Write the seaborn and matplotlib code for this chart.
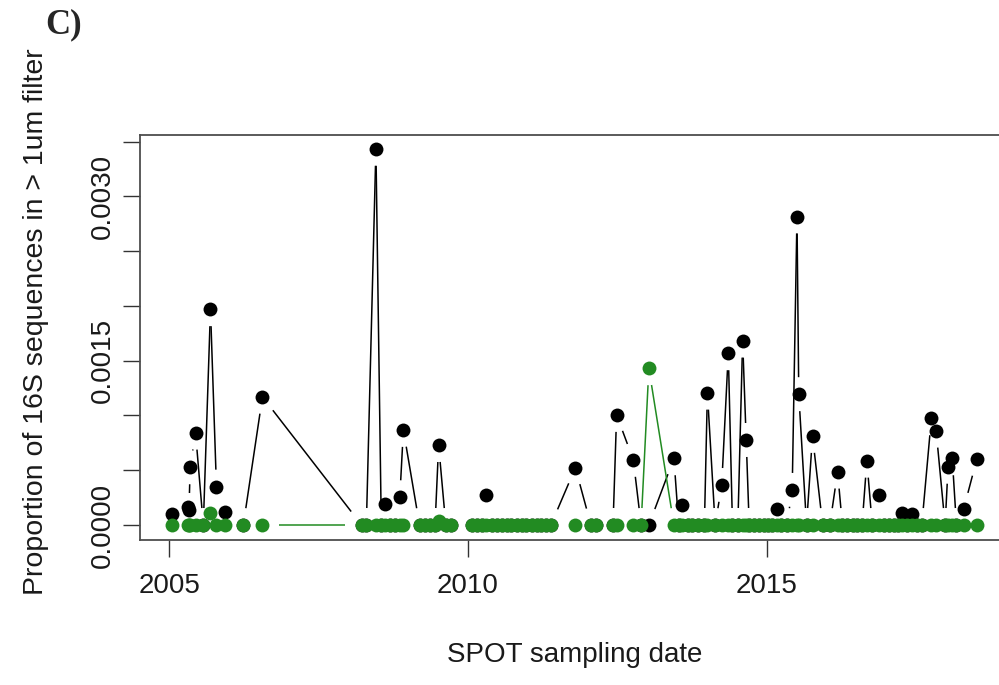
import numpy as np
import matplotlib
matplotlib.use("Agg")
import matplotlib.pyplot as plt
from matplotlib.collections import LineCollection
import seaborn as sns

# SPOT sampling dates (decimal years) and proportion of 16S reads in the > 1um fraction
dates = [
    2005.05, 2005.31, 2005.33, 2005.35, 2005.44, 2005.57, 2005.69, 2005.79, 2005.94,
    2006.24, 2006.56,
    2008.22, 2008.30, 2008.46, 2008.55, 2008.62, 2008.70, 2008.78, 2008.86, 2008.92,
    2009.19, 2009.28, 2009.36, 2009.45, 2009.51, 2009.63, 2009.72,
    2010.07, 2010.15, 2010.23, 2010.31, 2010.40, 2010.48, 2010.57, 2010.65, 2010.73,
    2010.82, 2010.90, 2010.98, 2011.07, 2011.15, 2011.23, 2011.31, 2011.39,
    2011.80, 2012.06, 2012.14, 2012.43, 2012.49, 2012.77, 2012.90, 2013.03,
    2013.45, 2013.53, 2013.59, 2013.68, 2013.76, 2013.85, 2013.96, 2014.01, 2014.14,
    2014.25, 2014.36, 2014.43, 2014.52, 2014.60, 2014.66, 2014.71, 2014.79, 2014.87,
    2014.95, 2015.03, 2015.10, 2015.17, 2015.25, 2015.34, 2015.43, 2015.51, 2015.54,
    2015.67, 2015.77, 2015.94, 2016.06, 2016.19, 2016.27, 2016.35, 2016.44, 2016.52,
    2016.60, 2016.68, 2016.77, 2016.89, 2016.97, 2017.05, 2017.13, 2017.20, 2017.27,
    2017.35, 2017.43, 2017.52, 2017.60, 2017.76, 2017.84, 2017.99, 2018.04, 2018.11,
    2018.18, 2018.30, 2018.52,
]

total_prop = [
    0.00010, 0.000164, 0.000137, 0.000527, 0.000843, 0.0, 0.00197, 0.00035, 0.000116,
    0.0, 0.00117,
    0.0, 0.0, 0.003434, 0.0, 0.000192, 0.0, 0.0, 0.000253, 0.000868,
    0.0, 0.0, 0.0, 0.0, 0.00073, 0.0, 0.0,
    0.0, 0.0, 0.0, 0.000274, 0.0, 0.0, 0.0, 0.0, 0.0,
    0.0, 0.0, 0.0, 0.0, 0.0, 0.0, 0.0, 0.0,
    0.000523, 0.0, 0.0, 0.0, 0.001005, 0.000594, 0.0, 0.0,
    0.000609, 0.0, 0.000183, 0.0, 0.0, 0.0, 0.0, 0.001208, 0.0,
    0.000365, 0.001568, 0.0, 0.0, 0.001683, 0.000776, 0.0, 0.0, 0.0,
    0.0, 0.0, 0.0, 0.000146, 0.0, 0.0, 0.00032, 0.002816, 0.001194,
    0.0, 0.000813, 0.0, 0.0, 0.000487, 0.0, 0.0, 0.0, 0.0,
    0.0, 0.000587, 0.0, 0.000274, 0.0, 0.0, 0.0, 0.0, 0.000112,
    0.0, 0.00010, 0.0, 0.0, 0.000974, 0.000861, 0.0, 0.000532, 0.000609,
    0.0, 0.000143, 0.00060,
]

green_prop = [
    0.0, 0.0, 0.0, 0.0, 0.0, 0.0, 0.000107, 0.0, 0.0,
    0.0, 0.0,
    0.0, 0.0, 0.0, 0.0, 0.0, 0.0, 0.0, 0.0, 0.0,
    0.0, 0.0, 0.0, 0.0, 0.00004, 0.0, 0.0,
    0.0, 0.0, 0.0, 0.0, 0.0, 0.0, 0.0, 0.0, 0.0,
    0.0, 0.0, 0.0, 0.0, 0.0, 0.0, 0.0, 0.0,
    0.0, 0.0, 0.0, 0.0, 0.0, 0.0, 0.0, 0.001431,
    0.0, 0.0, 0.0, 0.0, 0.0, 0.0, 0.0, 0.0, 0.0,
    0.0, 0.0, 0.0, 0.0, 0.0, 0.0, 0.0, 0.0, 0.0,
    0.0, 0.0, 0.0, 0.0, 0.0, 0.0, 0.0, 0.0, 0.0,
    0.0, 0.0, 0.0, 0.0, 0.0, 0.0, 0.0, 0.0, 0.0,
    0.0, 0.0, 0.0, 0.0, 0.0, 0.0, 0.0, 0.0, 0.0,
    0.0, 0.0, 0.0, 0.0, 0.0, 0.0, 0.0, 0.0, 0.0,
    0.0, 0.0, 0.0,
]

x_ticks = [2005, 2010, 2015]
y_ticks = [0.0, 0.0005, 0.0010, 0.0015, 0.0020, 0.0025, 0.0030, 0.0035]
y_tick_labels = ["0.0000", "", "", "0.0015", "", "", "0.0030", ""]

BLACK = "#000000"
GREEN = "#228B22"
GAP_PX = 17  # blank space left around each point by the connecting lines

sns.set_style("white")
plt.rcParams["font.family"] = ["Liberation Sans", "DejaVu Sans"]

W, H = 999, 685
fig = plt.figure(figsize=(W / 100, H / 100), dpi=100)
ax = fig.add_axes([140 / W, 1 - 540 / H, 869 / W, 405 / H])


def gapped_segments(ax, x, y, gap):
    """Connect consecutive points, leaving a gap of `gap` pixels around each."""
    pts = ax.transData.transform(np.column_stack([x, y]))
    inv = ax.transData.inverted()
    segs = []
    for p0, p1 in zip(pts[:-1], pts[1:]):
        d = p1 - p0
        length = np.hypot(d[0], d[1])
        if length > 2 * gap:
            u = d / length
            segs.append(inv.transform(np.vstack([p0 + u * gap, p1 - u * gap])))
    return segs


ax.set_xlim(2004.51, 2019.06)
ax.set_ylim(-0.000137, 0.00356)

ax.add_collection(LineCollection(gapped_segments(ax, dates, total_prop, GAP_PX),
                                 colors=BLACK, linewidths=1.1, zorder=2))
sns.scatterplot(x=dates, y=total_prop, color=BLACK, s=100, linewidth=0, ax=ax, zorder=3)
ax.add_collection(LineCollection(gapped_segments(ax, dates, green_prop, GAP_PX),
                                 colors=GREEN, linewidths=1.1, zorder=4))
sns.scatterplot(x=dates, y=green_prop, color=GREEN, s=100, linewidth=0, ax=ax, zorder=5)

ax.set_xlim(2004.51, 2019.06)
ax.set_ylim(-0.000137, 0.00356)

ax.set_xticks(x_ticks)
ax.set_xticklabels([str(t) for t in x_ticks])
ax.set_yticks(y_ticks)
ax.set_yticklabels(y_tick_labels, rotation=90, va="center")

ax.tick_params(axis="both", direction="out", length=12.5, width=1.0, color="#333333",
               labelsize=20, labelcolor="#1a1a1a", bottom=True, left=True)
ax.tick_params(axis="x", pad=11.5)
ax.tick_params(axis="y", pad=5)

for sp in ax.spines.values():
    sp.set_color("#4d4d4d")
    sp.set_linewidth(1.3)

ax.set_xlabel("SPOT sampling date", fontsize=20, color="#1a1a1a")
ax.xaxis.set_label_coords(0.5, -0.252)
ax.set_ylabel("Proportion of 16S sequences in > 1um filter", fontsize=20.5, color="#1a1a1a")
ax.yaxis.set_label_coords(-0.105, 0.54)

fig.text(45 / W, 1 - 33 / H, "C)", fontsize=25, fontweight="bold",
         family=["Liberation Serif", "DejaVu Serif"], ha="left", va="baseline")

fig.savefig("out.png", dpi=100)
